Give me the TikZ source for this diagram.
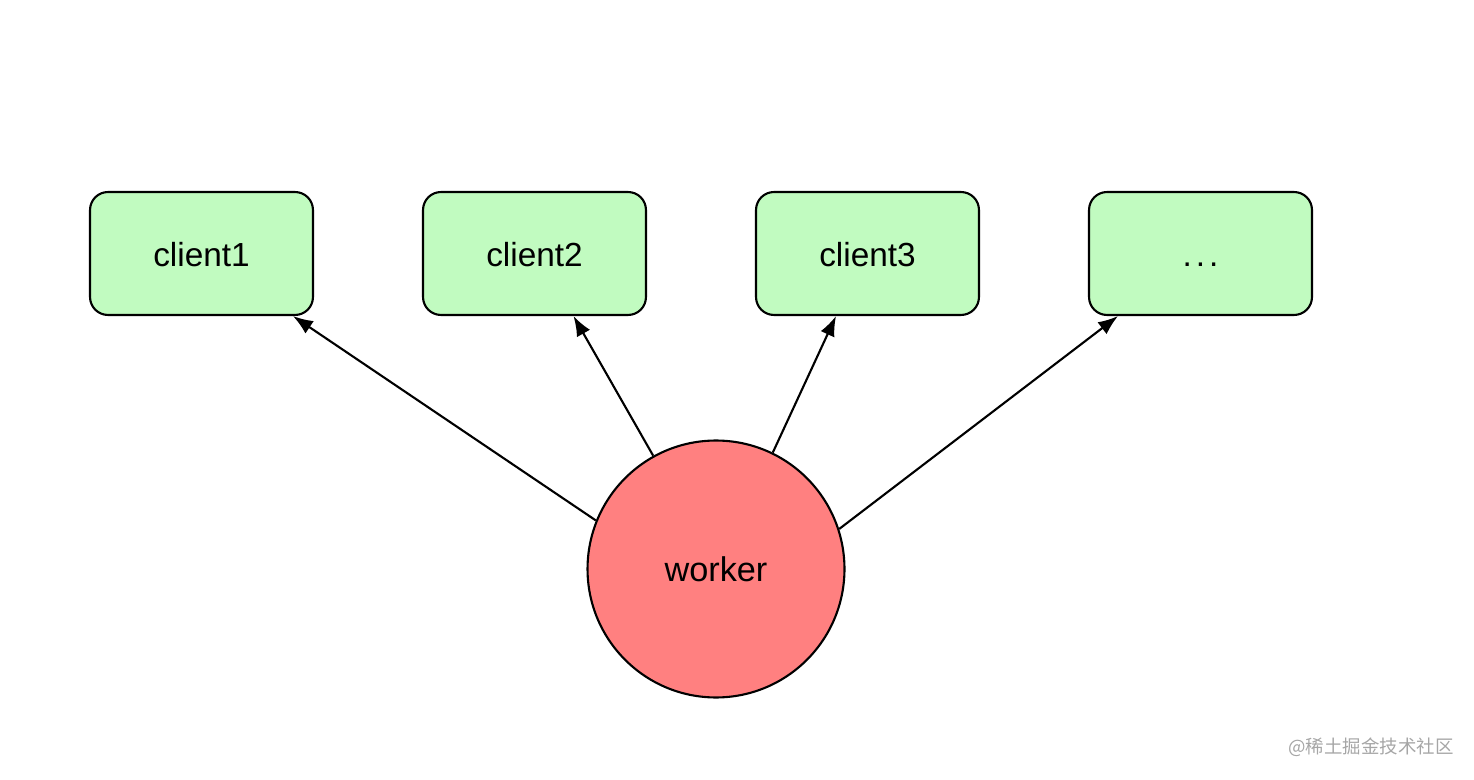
\documentclass[tikz,border=0pt]{standalone}
\usepackage{fontspec}
\setmainfont{Liberation Sans}
\newfontfamily\cjk{Noto Sans CJK SC}
\usetikzlibrary{arrows.meta}

\definecolor{clientgreen}{HTML}{C1FBC0}
\definecolor{workerred}{HTML}{FF8080}

\begin{document}
\begin{tikzpicture}[x=0.02cm, y=-0.02cm,
    client/.style={draw=black, line width=1.2pt, fill=clientgreen, rounded corners=0.36cm,
        minimum width=4.46cm, minimum height=2.46cm, text height=17pt, text depth=2pt,
        font=\fontsize{19}{22}\selectfont},
    worker/.style={draw=black, line width=1.2pt, fill=workerred, circle,
        minimum size=5.14cm, inner sep=0pt, font=\fontsize{19.5}{22}\selectfont},
    push/.style={-{Latex[length=4mm,width=3mm]}, line width=1.2pt}]
            % Page frame
            \useasboundingbox (0,0) rectangle (1474,780);

            % Row of clients
            \foreach \i/\name in {1/client1,2/client2,3/client3,4/{.\hspace{0.12em}.\hspace{0.12em}.}}{
                \node[client] (c\i) at ({201.5+333*(\i-1)},253.5) {\name};
            }

            % The worker
            \node[worker] (w) at (716,569) {worker};

            % Worker pushes to each client
            \foreach \i/\ang/\off in {1/158.8/1.83,2/119.7/0.78,3/64.4/-0.63,4/18/-1.65}{
                \draw[push] (w.\ang) -- ([xshift=\off cm]c\i.south);
            }

            % Watermark
            \node[text=black!35, font=\cjk\fontsize{10.5}{12}\selectfont] (mark) at (1371,747) {@稀土掘金技术社区};
        \end{tikzpicture}
\end{document}
